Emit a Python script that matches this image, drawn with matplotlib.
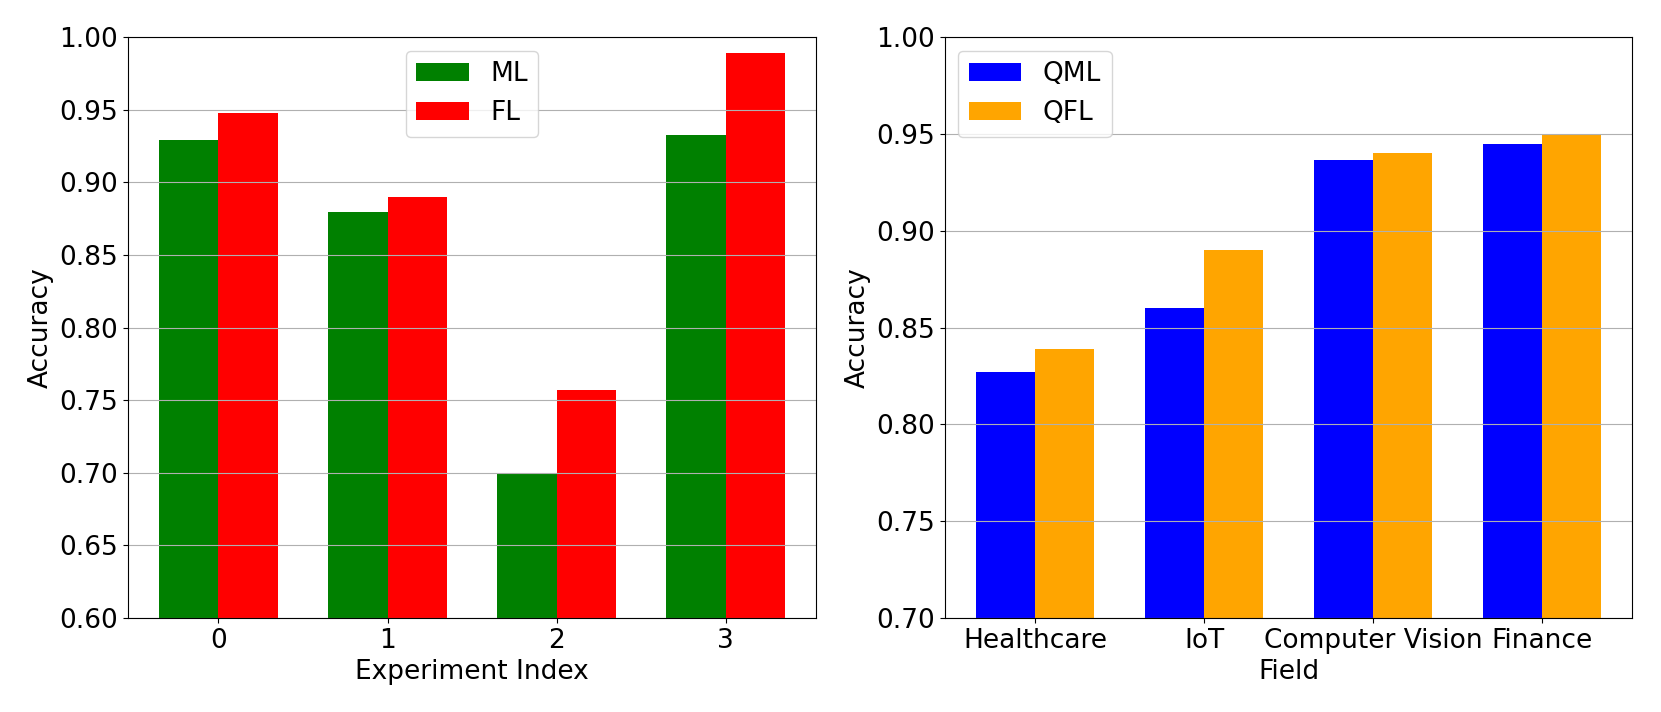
import numpy as np
import matplotlib
matplotlib.use("Agg")
import matplotlib.pyplot as plt

# left panel: classical vs federated
experiments = [0, 1, 2, 3]
ml_acc = [0.929, 0.880, 0.700, 0.933]
fl_acc = [0.948, 0.890, 0.757, 0.989]

# right panel: quantum variants per field
fields = ["Healthcare", "IoT", "Computer Vision", "Finance"]
qml_acc = [0.827, 0.860, 0.9365, 0.945]
qfl_acc = [0.839, 0.890, 0.940, 0.950]

W = 0.35
plt.rcParams["font.size"] = 19

fig = plt.figure(figsize=(16.61, 7.12), dpi=100)
ax1 = fig.add_axes([0.0771, 0.132, 0.4142, 0.8156])
ax2 = fig.add_axes([0.5689, 0.132, 0.4137, 0.8156])

x = np.arange(len(experiments))
ax1.bar(x - W / 2, ml_acc, W, color="green", label="ML")
ax1.bar(x + W / 2, fl_acc, W, color="red", label="FL")
ax1.set_xticks(x)
ax1.set_xticklabels([str(e) for e in experiments])
ax1.set_ylim(0.6, 1.0)
ax1.set_xlabel("Experiment Index")
ax1.set_ylabel("Accuracy")
ax1.legend(loc="upper center")
ax1.grid(axis="y")

x = np.arange(len(fields))
ax2.bar(x - W / 2, qml_acc, W, color="blue", label="QML")
ax2.bar(x + W / 2, qfl_acc, W, color="orange", label="QFL")
ax2.set_xticks(x)
ax2.set_xticklabels(fields)
ax2.set_ylim(0.7, 1.0)
ax2.set_xlabel("Field")
ax2.set_ylabel("Accuracy")
ax2.legend(loc="upper left")
ax2.grid(axis="y")

fig.savefig("out.png", dpi=100)
